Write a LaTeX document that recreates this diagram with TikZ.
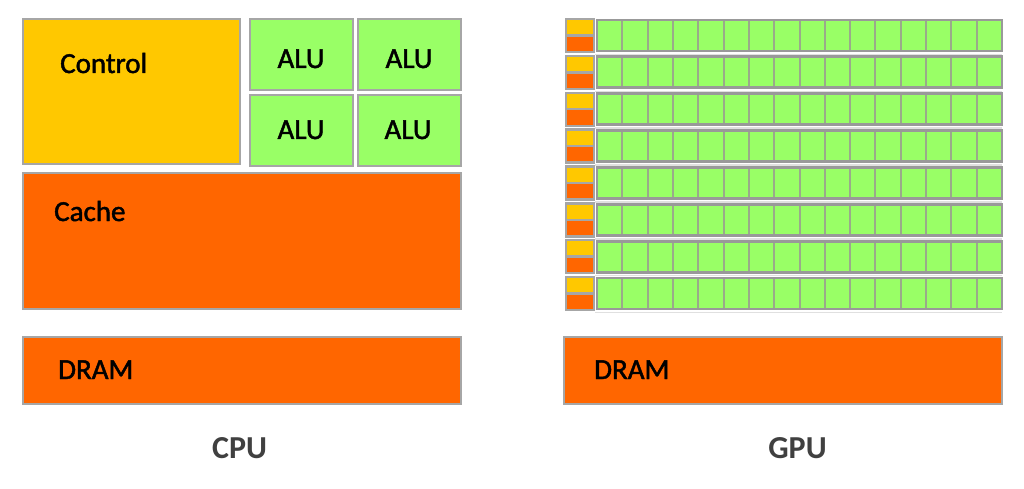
\documentclass[tikz,border=0pt]{standalone}
\usepackage{fontspec}
\setmainfont{Carlito}
\newfontfamily\boxfont[FakeBold=1.6]{Carlito}
\usetikzlibrary{calc}
\definecolor{ctrl}{HTML}{FFC800}
\definecolor{cach}{HTML}{FF6600}
\definecolor{alu}{HTML}{99FF66}
\definecolor{bord}{HTML}{A6A6A6}
\definecolor{rowbord}{HTML}{999999}
\definecolor{cellln}{HTML}{9AAA8A}
\definecolor{lbl}{HTML}{404040}
\tikzset{
  blk/.style={draw=bord, line width=2.4pt, inner sep=0pt, outer sep=0pt},
  txt/.style={font=\boxfont\fontsize{29}{34}\selectfont, text=black, inner sep=0pt},
  chiplbl/.style={font=\fontsize{32}{36}\selectfont\bfseries, text=lbl, inner sep=0pt, anchor=base},
}
\begin{document}
\begin{tikzpicture}[x=1pt,y=-1pt]
\useasboundingbox[fill=white] (0,0) rectangle (1024,489);
% CPU
\node[blk, fill=ctrl, minimum width=217pt, minimum height=145pt] (control) at (131.5,91.5) {};
\node[txt, anchor=base west] (controlt) at (60,73) {Control};
\node[blk, fill=alu, minimum width=103pt, minimum height=71pt] (alu1) at (301.5,54.5) {};
\node[blk, fill=alu, minimum width=103pt, minimum height=71pt] (alu2) at (409.5,54.5) {};
\node[blk, fill=alu, minimum width=103pt, minimum height=71pt] (alu3) at (301.5,130.5) {};
\node[blk, fill=alu, minimum width=103pt, minimum height=71pt] (alu4) at (409.5,130.5) {};
\node[txt, anchor=base] (alu1t) at (301,68) {ALU};
\node[txt, anchor=base] (alu2t) at (409,68) {ALU};
\node[txt, anchor=base] (alu3t) at (301,139) {ALU};
\node[txt, anchor=base] (alu4t) at (408,139) {ALU};
\node[blk, fill=cach, minimum width=438pt, minimum height=136pt] (cache) at (242,241) {};
\node[txt, anchor=base west] (cachet) at (54,221) {Cache};
\node[blk, fill=cach, minimum width=438pt, minimum height=67pt] (dramc) at (242,370.5) {};
\node[txt, anchor=base west] (dramct) at (58,379) {DRAM};
\node[chiplbl] (cpu) at (239.5,458) {CPU};
% GPU
\foreach \i in {0,...,7}{
  \pgfmathsetmacro{\rtop}{20+36.86*\i}
  \node[blk, fill=alu, minimum width=405pt, minimum height=31pt] (row\i) at (799.5,\rtop+15.5) {};
  \foreach \j in {1,...,15}{
    \draw[cellln, line width=2pt] ($(row\i.north west)!\j/16!(row\i.north east)$) -- ($(row\i.south west)!\j/16!(row\i.south east)$);
  }
  \draw[black!12, line width=1.5pt] ($(row\i.south west)+(-2,3.5)$) -- ($(row\i.south east)+(0,3.5)$);
  \draw[rowbord, line width=2.8pt] (row\i.north west) rectangle (row\i.south east);
  \node[blk, fill=ctrl, minimum width=28pt, minimum height=16.5pt] (gc\i) at (580,\rtop+7.25) {};
  \node[blk, fill=cach, minimum width=28pt, minimum height=16.5pt] (gk\i) at (580,\rtop+23.75) {};
}
\node[blk, fill=cach, minimum width=438pt, minimum height=67pt] (dramg) at (783,370.5) {};
\node[txt, anchor=base west] (dramgt) at (594,379) {DRAM};
\node[chiplbl] (gpu) at (797.5,458) {GPU};
\end{tikzpicture}
\end{document}
